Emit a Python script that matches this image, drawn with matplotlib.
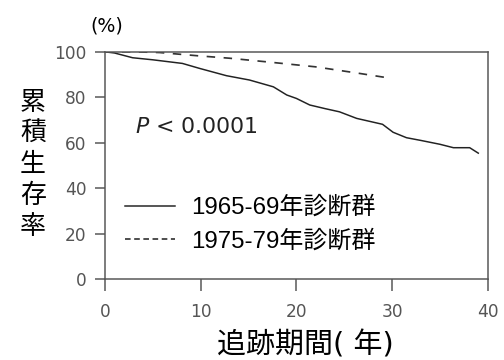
import numpy as np
import matplotlib.pyplot as plt

plt.rcParams['font.family'] = ['DejaVu Sans', 'Noto Sans CJK JP']

# 1965-69 diagnosis group (solid)
years_a = [0, 1, 2.9, 5, 8.1, 9.9, 12.7, 15.1, 17.6, 19, 20, 21.4, 23, 24.5, 26.3, 29, 30.1, 31.5, 33, 35, 36.4, 38.1, 39]
surv_a = [100, 99.5, 97.4, 96.5, 94.9, 92.7, 89.5, 87.6, 84.6, 81, 79.5, 76.6, 75, 73.6, 70.7, 68.1, 64.6, 62.2, 61, 59.3, 57.8, 57.8, 55.4]

# 1975-79 diagnosis group (dashed)
years_b = [0, 3, 5.7, 9.9, 13, 16.9, 22, 26.6, 29.8]
surv_b = [100, 100, 99.7, 98.2, 97.2, 95.6, 93.4, 90.5, 88.4]

labels = ['1965-69年診断群', '1975-79年診断群']
xticks = [0, 10, 20, 30, 40]
yticks = [0, 20, 40, 60, 80, 100]
ylabel_chars = ['累', '積', '生', '存', '率']

fig = plt.figure(figsize=(7, 5), dpi=72)
ax = fig.add_axes([0.208, 0.225, 0.76, 0.631])

ax.plot(years_a, surv_a, color='#222222', lw=1.5, label=labels[0])
ax.plot(years_b, surv_b, color='#333333', lw=1.7, dashes=(5, 5), label=labels[1])

ax.set_xlim(0, 40)
ax.set_ylim(0, 100)
ax.set_xticks(xticks)
ax.set_yticks(yticks)
ax.tick_params(direction='out', width=1.5, color='#555555',
               labelsize=17, labelcolor='#555555')
ax.tick_params(axis='y', length=10, pad=8)
ax.tick_params(axis='x', length=12, pad=12)
for s in ax.spines.values():
    s.set_linewidth(1.5)
    s.set_color('#555555')

leg = ax.legend(loc='upper left', bbox_to_anchor=(0.248, 0.454), bbox_transform=fig.transFigure,
                frameon=False, prop={'family': ['Liberation Sans', 'Noto Sans CJK JP'], 'size': 24},
                handlelength=2.1, labelspacing=0.45, handletextpad=0.65, borderpad=0, borderaxespad=0)
leg.get_lines()[1].set_dashes((3.3, 2.1))

ax.text(3.1, 67, r'$\mathit{P}$ < 0.0001', fontsize=22, color='#222222', va='center')

fig.text(107 / 504, 1 - 26 / 360, '(%)', fontsize=19, ha='center', va='center')
# vertical stacked y label
for i, ch in enumerate(ylabel_chars):
    fig.text(33 / 504, 1 - (103 + 31 * i) / 360, ch, fontsize=26, ha='center', va='center')
fig.text(305 / 504, 1 - 345 / 360, '追跡期間( 年)', fontsize=29, ha='center', va='center')

plt.savefig('out.png', dpi=72)
